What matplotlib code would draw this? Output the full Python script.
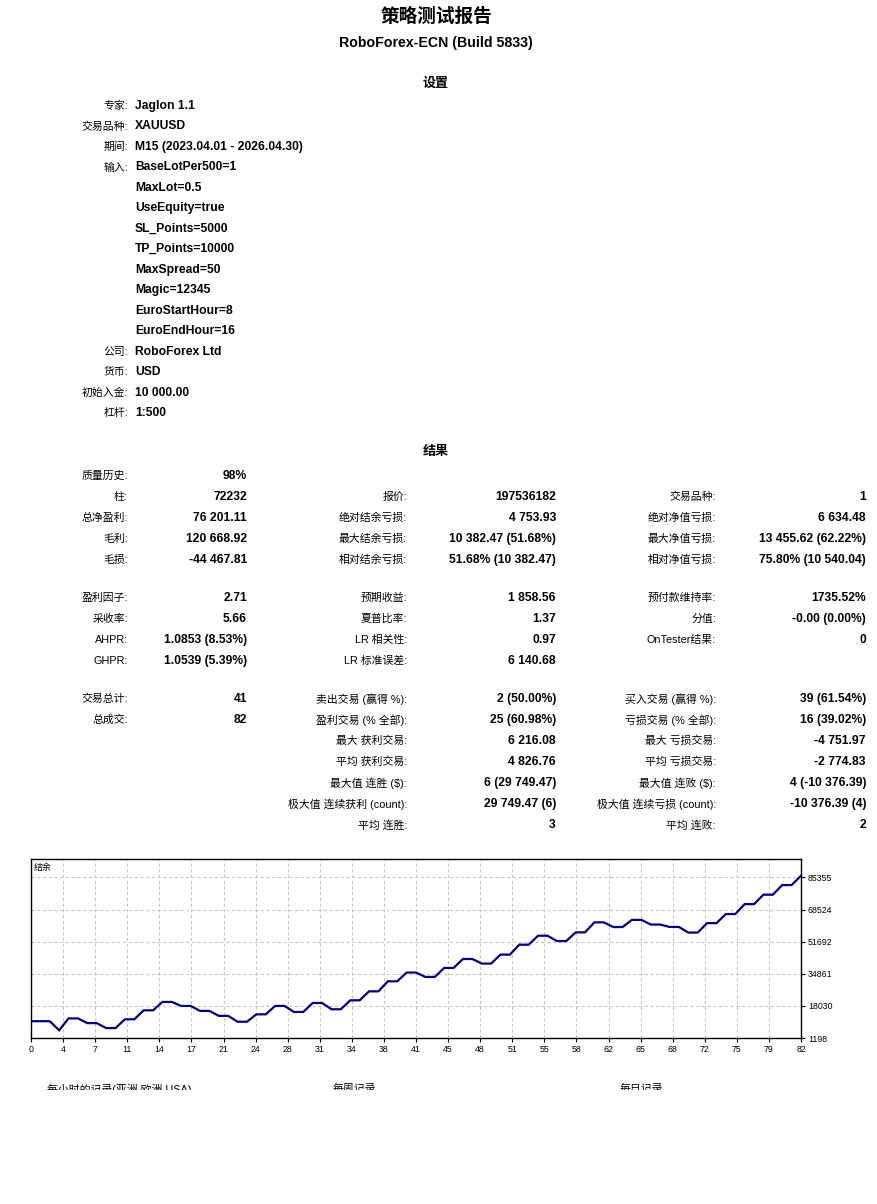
import matplotlib.pyplot as plt
from matplotlib.patches import Rectangle
import numpy as np

plt.rcParams['font.family'] = ['Liberation Sans', 'Noto Sans CJK SC', 'DejaVu Sans']

W, H = 877, 1204

# ---- texte du rapport ----
titre = '策略测试报告'
sous_titre = 'RoboForex-ECN (Build 5833)'

reglages_labels = ['专家:', '交易品种:', '期间:', '输入:', '', '', '', '', '', '', '', '',
                   '公司:', '货币:', '初始入金:', '杠杆:']
reglages_valeurs = ['Jaglon 1.1', 'XAUUSD', 'M15 (2023.04.01 - 2026.04.30)', 'BaseLotPer500=1',
                    'MaxLot=0.5', 'UseEquity=true', 'SL_Points=5000', 'TP_Points=10000',
                    'MaxSpread=50', 'Magic=12345', 'EuroStartHour=8', 'EuroEndHour=16',
                    'RoboForex Ltd', 'USD', '10 000.00', '1:500']

col1_labels = ['质量历史:', '柱:', '总净盈利:', '毛利:', '毛损:',
               '盈利因子:', '采收率:', 'AHPR:', 'GHPR:',
               '交易总计:', '总成交:', '', '', '', '', '']
col1_valeurs = ['98%', '72232', '76 201.11', '120 668.92', '-44 467.81',
                '2.71', '5.66', '1.0853 (8.53%)', '1.0539 (5.39%)',
                '41', '82', '', '', '', '', '']
col2_labels = ['', '报价:', '绝对结余亏损:', '最大结余亏损:', '相对结余亏损:',
               '预期收益:', '夏普比率:', 'LR 相关性:', 'LR 标准误差:',
               '卖出交易 (赢得 %):', '盈利交易 (% 全部):', '最大 获利交易:', '平均 获利交易:',
               '最大值 连胜 ($):', '极大值 连续获利 (count):', '平均 连胜:']
col2_valeurs = ['', '197536182', '4 753.93', '10 382.47 (51.68%)', '51.68% (10 382.47)',
                '1 858.56', '1.37', '0.97', '6 140.68',
                '2 (50.00%)', '25 (60.98%)', '6 216.08', '4 826.76',
                '6 (29 749.47)', '29 749.47 (6)', '3']
col3_labels = ['', '交易品种:', '绝对净值亏损:', '最大净值亏损:', '相对净值亏损:',
               '预付款维持率:', '分值:', 'OnTester结果:', '',
               '买入交易 (赢得 %):', '亏损交易 (% 全部):', '最大 亏损交易:', '平均 亏损交易:',
               '最大值 连败 ($):', '极大值 连续亏损 (count):', '平均 连败:']
col3_valeurs = ['', '1', '6 634.48', '13 455.62 (62.22%)', '75.80% (10 540.04)',
                '1735.52%', '-0.00 (0.00%)', '0', '',
                '39 (61.54%)', '16 (39.02%)', '-4 751.97', '-2 774.83',
                '4 (-10 376.39)', '-10 376.39 (4)', '2']

rubriques_bas = ['每小时的记录(亚洲 欧洲 USA)', '每周记录', '每日记录']

# ---- courbe de solde (une valeur par transaction) ----
solde = [10000, 10000, 10000, 5248.03, 11464.11, 11464.11, 9000, 9000, 6400, 6400,
         11000, 11000, 15700, 15700, 20100, 20100, 18000, 18000, 15400, 15400,
         12800, 12800, 9723.61, 9723.61, 13600, 13600, 18000, 18000, 14850, 14850,
         19550, 19550, 16250, 16250, 20950, 20950, 25650, 25650, 30900, 30900,
         35500, 35500, 33200, 33200, 37900, 37900, 42600, 42600, 40200, 40200,
         44900, 44900, 50100, 50100, 54800, 54800, 52000, 52000, 56550, 56550,
         61800, 61800, 59350, 59350, 63100, 63100, 60650, 60650, 59400, 59400,
         56451.64, 56451.64, 61400, 61400, 66150, 66150, 71350, 71350, 76300, 76300,
         81350, 81350, 86201.11]
x_labels = ['0', '4', '7', '11', '14', '17', '21', '24', '28', '31', '34', '38', '41',
            '45', '48', '51', '55', '58', '62', '65', '68', '72', '75', '79', '82']
y_ticks = [1198, 18030, 34861, 51692, 68524, 85355]


def fx(px):
    return px / W


def fy(py):
    return 1 - py / H


fig = plt.figure(figsize=(W / 100, H / 100), dpi=100)
fig.patch.set_facecolor('white')

fig.text(fx(436), fy(17), titre, ha='center', va='center', fontsize=13.4, fontweight='bold')
fig.text(fx(436), fy(43), sous_titre, ha='center', va='center', fontsize=10.2, fontweight='bold')

# Réglages
fig.text(fx(436), fy(84), '设置', ha='center', va='center', fontsize=9.4, fontweight='bold')
for i in range(len(reglages_valeurs)):
    y = 106 + i * 20.47
    if reglages_labels[i]:
        fig.text(fx(128), fy(y), reglages_labels[i], ha='right', va='center', fontsize=7.8)
    fig.text(fx(135), fy(y), reglages_valeurs[i], ha='left', va='center', fontsize=8.7,
             fontweight='bold')

# Résultats
fig.text(fx(436), fy(452), '结果', ha='center', va='center', fontsize=9.4, fontweight='bold')
lignes_y = [476, 497, 518, 539, 560, 598, 619, 640, 661, 699, 720, 741, 762, 783, 804, 825]
colonnes = [(col1_labels, col1_valeurs, 128, 247),
            (col2_labels, col2_valeurs, 407, 556),
            (col3_labels, col3_valeurs, 716, 866)]
for labs, vals, x_lab, x_val in colonnes:
    for i, y in enumerate(lignes_y):
        if labs[i]:
            fig.text(fx(x_lab), fy(y), labs[i], ha='right', va='center', fontsize=7.8)
        if vals[i]:
            fig.text(fx(x_val), fy(y), vals[i], ha='right', va='center', fontsize=8.7,
                     fontweight='bold')

# Graphique du solde
ax = fig.add_axes([fx(31), fy(1038), 770 / W, 179 / H])
ax.plot(range(len(solde)), solde, color='#000080', linewidth=1.6, solid_joinstyle='miter')
ax.set_xlim(0, 82)
ax.set_ylim(1198, 95000)
ax.set_xticks(np.linspace(0, 82, len(x_labels)))
ax.set_xticklabels(x_labels)
ax.set_yticks(y_ticks)
ax.set_yticklabels([str(v) for v in y_ticks])
ax.yaxis.tick_right()
ax.tick_params(axis='both', labelsize=6.3, length=3, width=0.8, pad=2, colors='black')
ax.grid(True, color='#c4c4c4', linestyle=(0, (3, 2.5)), linewidth=0.75)
for s in ax.spines.values():
    s.set_color('black')
    s.set_linewidth(1)
ax.text(0.004, 0.95, '结余', transform=ax.transAxes, ha='left', va='center', fontsize=6.4)

# rubriques coupées en bas de la page
for txt, xp in zip(rubriques_bas, [47, 333, 620]):
    fig.text(fx(xp), fy(1089), txt, ha='left', va='center', fontsize=7.8)
fig.patches.append(Rectangle((0, 0), 1, fy(1090), transform=fig.transFigure,
                             facecolor='white', edgecolor='none', zorder=10))

fig.savefig('out.png', dpi=100, facecolor='white')
